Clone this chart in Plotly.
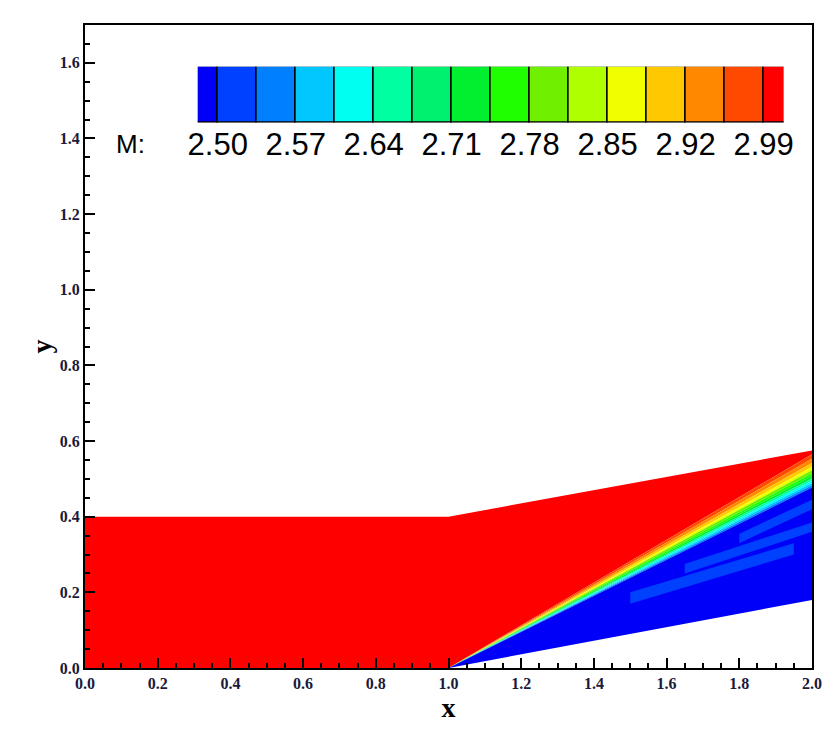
import plotly.graph_objects as go

# Geometry of the domain (x, y)
inflow_top = 0.40
ramp_corner_x = 1.0
outlet_x = 2.0
outlet_top = 0.575
outlet_wall = 0.18
# Shock layer at the outlet: edges (y at x=2) and Mach level of each band, top to bottom
band_edges = [0.565, 0.553, 0.542, 0.532, 0.523, 0.515, 0.508, 0.501, 0.495, 0.489, 0.483, 0.477]
band_levels = [2.97, 2.93, 2.90, 2.86, 2.81, 2.76, 2.72, 2.67, 2.62, 2.58, 2.55]
M_free = 3.0
M_post = 2.49
# lighter patches behind the shock
patch_x0 = [1.50, 1.65, 1.80]
patch_x1 = [1.95, 2.00, 2.00]
patch_y0 = [0.17, 0.25, 0.33]
patch_y1 = [0.30, 0.36, 0.42]
patch_h = [0.03, 0.025, 0.025]
patch_M = 2.52

# Legend levels and colours
levels = [2.50 + 0.035 * i for i in range(15)]
cell_colors = ["#0000F8", "#0040FF", "#0080FF", "#00C8FF", "#00FFF0", "#00FFA0", "#00F070", "#00F030",
               "#20FF00", "#70F000", "#B0FF00", "#F0FF00", "#FFC800", "#FF8800", "#FF4800", "#FF0000"]
tick_labels = ["2.50", "2.57", "2.64", "2.71", "2.78", "2.85", "2.92", "2.99"]

def color_of(m):
    idx = sum(1 for lv in levels if m >= lv)
    return cell_colors[idx]

fig = go.Figure()
fig.add_trace(go.Scatter(
    x=[0, ramp_corner_x, outlet_x, outlet_x, ramp_corner_x, 0, 0],
    y=[0, 0, band_edges[0], outlet_top, inflow_top, inflow_top, 0],
    fill="toself", fillcolor=color_of(M_free), mode="none", showlegend=False, hoverinfo="skip"))
for i, m in enumerate(band_levels):
    fig.add_trace(go.Scatter(
        x=[ramp_corner_x, outlet_x, outlet_x, ramp_corner_x],
        y=[0, band_edges[i], band_edges[i + 1], 0],
        fill="toself", fillcolor=color_of(m), mode="none", showlegend=False, hoverinfo="skip"))
fig.add_trace(go.Scatter(
    x=[ramp_corner_x, outlet_x, outlet_x, ramp_corner_x],
    y=[0, band_edges[-1], outlet_wall, 0],
    fill="toself", fillcolor=color_of(M_post), mode="none", showlegend=False, hoverinfo="skip"))
for a, b, c, d, h in zip(patch_x0, patch_x1, patch_y0, patch_y1, patch_h):
    fig.add_trace(go.Scatter(
        x=[a, b, b, a], y=[c, d, d + h, c + h],
        fill="toself", fillcolor=color_of(patch_M), mode="none", showlegend=False, hoverinfo="skip"))

centers = [levels[0] - 0.0175 + 0.035 * i for i in range(16)]
fig.add_trace(go.Bar(x=centers, y=[1] * 16, width=0.035, marker=dict(color=cell_colors, line=dict(color="black", width=1.5)),
                     xaxis="x2", yaxis="y2", showlegend=False, hoverinfo="skip"))

tfont = dict(family="Liberation Serif", size=16, color="#1a1a3a")
fig.update_layout(
    width=839, height=742, margin=dict(l=77, r=35, t=17, b=82, autoexpand=False),
    plot_bgcolor="white", paper_bgcolor="white", bargap=0,
    xaxis=dict(range=[0, 2], tickvals=[0.2 * i for i in range(11)], ticktext=[f"<b>{0.2*i:.1f}</b>" for i in range(11)],
               ticks="inside", ticklen=10, tickwidth=2, tickcolor="black", automargin=False,
               minor=dict(dtick=0.05, ticks="inside", ticklen=5, tickwidth=2, tickcolor="black"),
               showgrid=False, zeroline=False, showline=True, linecolor="black", linewidth=2, mirror=True,
               tickfont=tfont, title=dict(text="<b>x</b>", font=dict(family="Liberation Serif", size=28, color="black"), standoff=2)),
    yaxis=dict(range=[0, 1.7], tickvals=[0.2 * i for i in range(9)], ticktext=[f"<b>{0.2*i:.1f}</b>" for i in range(9)],
               ticks="inside", ticklen=10, tickwidth=2, tickcolor="black", automargin=False,
               minor=dict(dtick=0.05, ticks="inside", ticklen=5, tickwidth=2, tickcolor="black"),
               showgrid=False, zeroline=False, showline=True, linecolor="black", linewidth=2, mirror=True,
               tickfont=tfont, title=dict(text="<b>y</b>", font=dict(family="Liberation Serif", size=28, color="black"), standoff=0)),
    xaxis2=dict(domain=[0.155, 0.961], anchor="y2", range=[levels[0] - 0.018, levels[-1] + 0.018],
                tickvals=levels[::2], ticktext=tick_labels, ticks="", showgrid=False, zeroline=False, showline=False,
                automargin=False,
                tickfont=dict(family="Liberation Sans Narrow, Liberation Sans", size=31, color="black")),
    yaxis2=dict(domain=[0.848, 0.935], anchor="x2", range=[0, 1], visible=False),
    annotations=[dict(text="M:", xref="x", yref="y", x=0.08, y=1.385, showarrow=False,
                      xanchor="left", font=dict(family="Liberation Sans", size=26, color="black"))],
)
fig.write_html("out.html")
